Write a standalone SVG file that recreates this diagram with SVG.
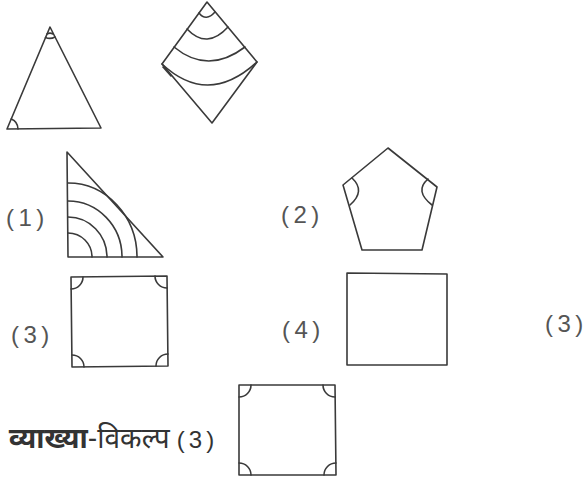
<svg xmlns="http://www.w3.org/2000/svg" width="587" height="480" viewBox="0 0 587 480">
<style>
.s{fill:none;stroke:#3a3a3a;stroke-width:1.6;stroke-linejoin:round;stroke-linecap:round}
.t{font-family:"Liberation Sans",Arial,sans-serif;font-size:24px;fill:#555;letter-spacing:4.5px}
.h{font-family:"Noto Sans Devanagari","Lohit Devanagari","Noto Sans",sans-serif;font-size:28px;fill:#333}
</style>
<rect width="587" height="480" fill="#fff"/>
<g id="question-triangle">
<path class="s" d="M50,27 L7,129 L101,128 Z"/>
<path class="s" d="M45.5,37.5 A11,11 0 0 0 55,37"/>
<path class="s" d="M47,34 A6,6 0 0 1 53,34"/>
<path class="s" d="M11.3,118.9 A11,11 0 0 1 18,129"/>
</g>
<g id="question-diamond">
<path class="s" d="M207,2 L162,64 L212,123 L257,62 Z"/>
<path class="s" d="M199,13 Q206,22 215,12"/>
<path class="s" d="M187,29 Q207,50 228,27"/>
<path class="s" d="M174,47 Q208,75 245,47"/>
<path class="s" d="M162,64 Q208,107 257,62"/>
<path class="s" d="M163,67 L171,76"/>
</g>
<g id="option-1">
<text class="t" x="6" y="226">(1)</text>
<path class="s" d="M67,152 L68,257 L163,257 Z"/>
<path class="s" d="M68,233 A24,24 0 0 1 92,257"/>
<path class="s" d="M68,217 A39,40 0 0 1 107,257"/>
<path class="s" d="M68,201 A54,56 0 0 1 122,257"/>
<path class="s" d="M68,183 A69,74 0 0 1 137,257"/>
</g>
<g id="option-2">
<text class="t" x="281" y="223">(2)</text>
<path class="s" d="M388,148 L343,185 L362,250 L422,250 L437,187 Z"/>
<path class="s" d="M352,178 Q366,191 350,205"/>
<path class="s" d="M428,179 Q414,191 432,205"/>
</g>
<g id="option-3">
<text class="t" x="11" y="343">(3)</text>
<path class="s" d="M71,277 L167,276 L168,366 L72,367 Z"/>
<path class="s" d="M83,277 A12,12 0 0 1 71,289"/>
<path class="s" d="M155,276 A12,12 0 0 0 167,288"/>
<path class="s" d="M72,355 A12,12 0 0 1 84,367"/>
<path class="s" d="M168,354 A12,12 0 0 0 156,366"/>
</g>
<g id="option-4">
<text class="t" x="282" y="338">(4)</text>
<path class="s" d="M347,273 L447,274 L447,365 L347,365 Z"/>
</g>
<g id="answer-right">
<text class="t" x="545" y="332">(3)</text>
</g>
<g id="explanation">
<text class="h" x="9" y="448"><tspan font-weight="bold">व्याख्या</tspan>-विकल्प <tspan style="font-family:'Liberation Sans',Arial,sans-serif;font-size:24px;letter-spacing:4px">(3)</tspan></text>
<path class="s" d="M239,385 L335,385 L336,475 L239,475 Z"/>
<path class="s" d="M251,385 A12,12 0 0 1 239,397"/>
<path class="s" d="M323,385 A12,12 0 0 0 335,397"/>
<path class="s" d="M239,463 A12,12 0 0 1 251,475"/>
<path class="s" d="M336,463 A12,12 0 0 0 324,475"/>
</g>
</svg>
